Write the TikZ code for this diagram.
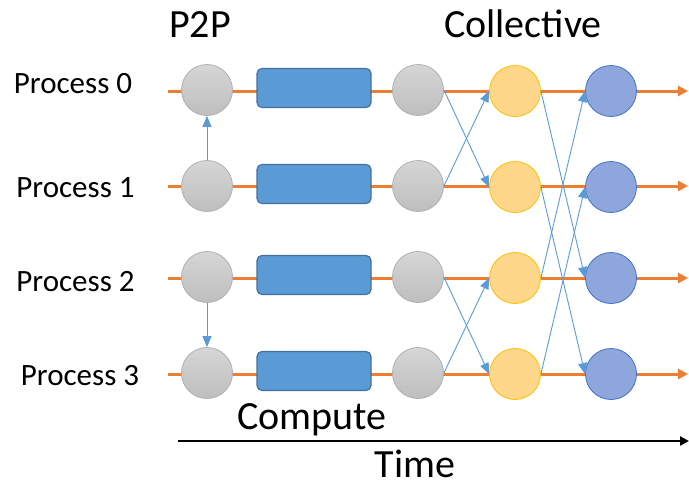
\documentclass[tikz,border=0pt]{standalone}
\usepackage{fontspec}
\setmainfont{Carlito}
\usetikzlibrary{arrows.meta}
\definecolor{oline}{HTML}{ED7D31}
\definecolor{ablue}{HTML}{5B9BD5}
\definecolor{rfill}{HTML}{5B9BD5}
\definecolor{rdraw}{HTML}{41719C}
\definecolor{gfill}{HTML}{C8C8C8}
\definecolor{gdraw}{HTML}{B0B0B0}
\definecolor{yfill}{HTML}{FFD78A}
\definecolor{ydraw}{HTML}{FFC000}
\definecolor{bfill}{HTML}{8EA6DC}
\definecolor{bdraw}{HTML}{4472C4}
\tikzset{
  graycirc/.style={circle, minimum size=51pt, inner sep=0pt, draw=gdraw, line width=0.8pt, top color=gfill!75!white, bottom color=gfill!95!black},
  yelcirc/.style={circle, minimum size=51pt, inner sep=0pt, draw=ydraw, line width=0.8pt, fill=yfill},
  bluecirc/.style={circle, minimum size=51pt, inner sep=0pt, draw=bdraw, line width=0.8pt, fill=bfill},
  compbox/.style={rectangle, rounded corners=5pt, minimum width=114pt, minimum height=39pt, inner sep=0pt, draw=rdraw, line width=1.2pt, fill=rfill},
  procline/.style={draw=oline, line width=3pt, -{Triangle[length=10pt,width=10pt]}},
  msg/.style={draw=ablue, line width=0.9pt, -{Triangle[length=11pt,width=9pt]}},
  lbl/.style={font=\fontsize{31}{32}\selectfont, anchor=base, inner sep=0pt},
  big/.style={font=\fontsize{40}{42}\selectfont, anchor=base, inner sep=0pt},
}
\begin{document}
\begin{tikzpicture}[x=1pt,y=-1pt]
\useasboundingbox (0,0) rectangle (689,488);
% labels
\node[lbl] (l0) at (73,93) {Process 0};
\node[lbl] (l1) at (75.5,197) {Process 1};
\node[lbl] (l2) at (75.5,291) {Process 2};
\node[lbl] (l3) at (80,385) {Process 3};
\node[big] (tp2p) at (200,37) {P2P};
\node[big] (tcol) at (523,37) {Collective};
\node[big] (tcomp) at (312,429) {Compute};
\node[big] (ttime) at (415,477) {Time};
% process lines
\foreach \i/\y in {0/91,1/186,2/278,3/374}{
  \coordinate (s\i) at (168,\y);
  \coordinate (e\i) at (688,\y);
  \draw[procline] (s\i) -- (e\i);
}
% nodes
\foreach \i/\y in {0/90,1/186,2/277,3/373}{
  \node[graycirc] (g\i) at (207,\y) {};
  \node[compbox] (c\i) at (314,\y-2) {};
  \node[graycirc] (h\i) at (418,\y) {};
  \node[yelcirc] (y\i) at (515,\y+1) {};
  \node[bluecirc] (b\i) at (611,\y+1) {};
}
% P2P messages
\draw[msg] (g1) -- (g0);
\draw[msg] (g2) -- (g3);
% collective stage 1
\draw[msg] (h0.east) -- (y1.west);
\draw[msg] (h1.east) -- (y0.west);
\draw[msg] (h2.east) -- (y3.west);
\draw[msg] (h3.east) -- (y2.west);
% collective stage 2
\draw[msg] (y0.east) -- (b2.west);
\draw[msg] (y1.east) -- (b3.west);
\draw[msg] (y2.east) -- (b0.west);
\draw[msg] (y3.east) -- (b1.west);
% time axis
\coordinate (ta) at (178,441);
\coordinate (tb) at (689,441);
\draw[line width=2.2pt, -{Triangle[length=9pt,width=9pt]}] (ta) -- (tb);
\end{tikzpicture}
\end{document}
